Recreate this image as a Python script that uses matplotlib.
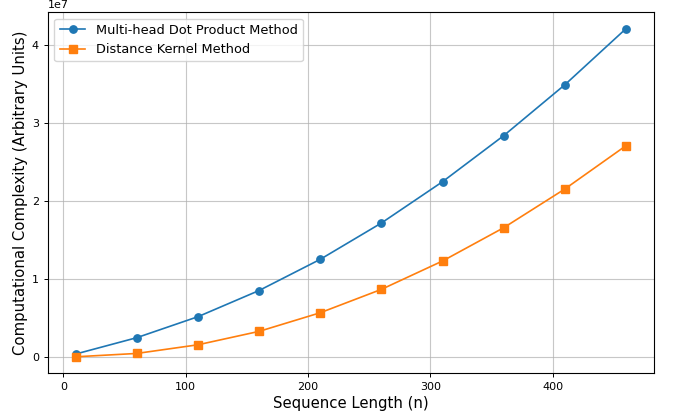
import matplotlib
matplotlib.use("Agg")
import matplotlib.pyplot as plt

seq_len = [10, 60, 110, 160, 210, 260, 310, 360, 410, 460]
multihead = [0.035e7, 0.245e7, 0.514e7, 0.85e7, 1.25e7, 1.716e7, 2.246e7, 2.837e7, 3.49e7, 4.21e7]
distance_kernel = [0.0, 0.043e7, 0.154e7, 0.326e7, 0.565e7, 0.865e7, 1.229e7, 1.656e7, 2.153e7, 2.709e7]

fig = plt.figure(figsize=(6.76, 4.17), dpi=100)
ax = fig.add_axes([0.071, 0.105, 0.896, 0.866])
ax.plot(seq_len, multihead, marker='o', color='#1f77b4', linewidth=1.2, markersize=5.3,
        label='Multi-head Dot Product Method')
ax.plot(seq_len, distance_kernel, marker='s', color='#ff7f0e', linewidth=1.2, markersize=5.3,
        label='Distance Kernel Method')
ax.set_xlabel('Sequence Length (n)', fontsize=10.7, labelpad=3)
ax.set_ylabel('Computational Complexity (Arbitrary Units)', fontsize=10.7, labelpad=3)
ax.tick_params(labelsize=8, width=0.7, length=3)
ax.yaxis.get_offset_text().set_fontsize(8)
for s in ax.spines.values():
    s.set_linewidth(0.8)
ax.grid(True, color='#b0b0b0', linewidth=0.8, alpha=0.7)
ax.legend(fontsize=9.3, loc='upper left')
fig.savefig('out.png', dpi=100)
